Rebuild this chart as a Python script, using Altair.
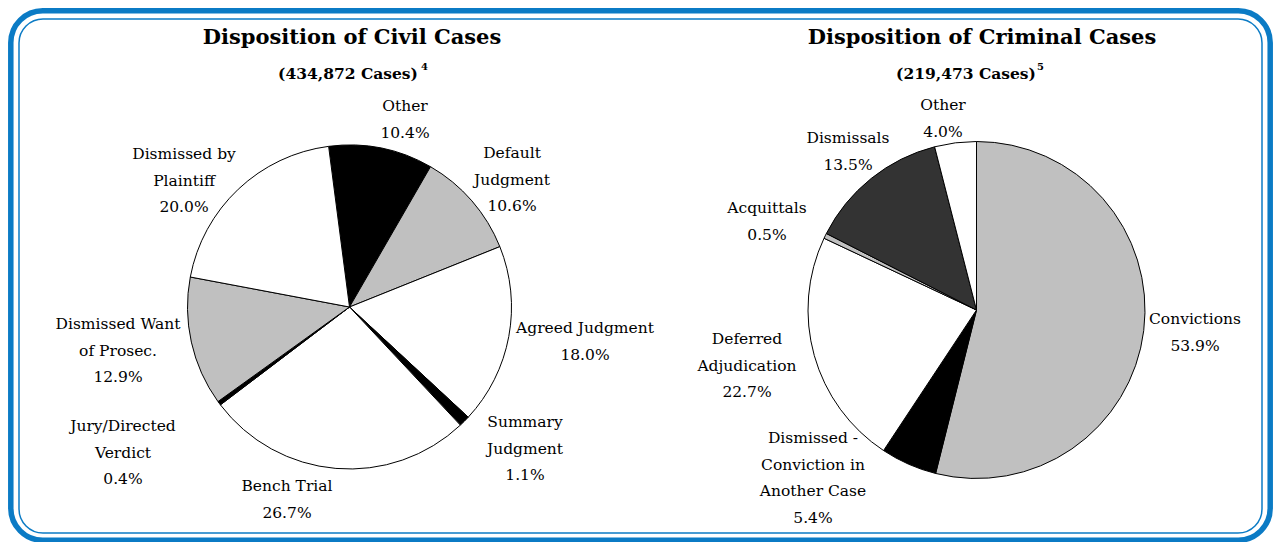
import math
import altair as alt
import pandas as pd

# ---------------- data ----------------
civil_categories = ["Other", "Default\nJudgment", "Agreed Judgment", "Summary\nJudgment",
                    "Bench Trial", "Jury/Directed\nVerdict", "Dismissed Want\nof Prosec.",
                    "Dismissed by\nPlaintiff"]
civil_values = [10.4, 10.6, 18.0, 1.1, 26.7, 0.4, 12.9, 20.0]

criminal_categories = ["Convictions", "Dismissed -\nConviction in\nAnother Case",
                       "Deferred\nAdjudication", "Acquittals", "Dismissals", "Other"]
criminal_values = [53.9, 5.4, 22.7, 0.5, 13.5, 4.0]

civil_title = "Disposition of Civil Cases"
civil_sub = "(434,872 Cases)"
civil_note = "4"
criminal_title = "Disposition of Criminal Cases"
criminal_sub = "(219,473 Cases)"
criminal_note = "5"

# ---------------- styles / positions ----------------
civil_fills = ["#000000", "#c0c0c0", "#ffffff", "#000000", "#ffffff", "#000000", "#c0c0c0", "#ffffff"]
criminal_fills = ["#c0c0c0", "#000000", "#ffffff", "#c0c0c0", "#333333", "#ffffff"]

# label anchors (page pixels): centre x, first-line y
civil_label_x = [405, 512, 585, 525, 287, 123, 118, 184]
civil_label_y = [105, 152, 327, 421, 485, 425, 323, 153]
criminal_label_x = [1195, 813, 747, 767, 848, 943]
criminal_label_y = [318, 437, 338, 207, 137, 104]

M = 8  # page margin
W, H = 1265, 534
FONT = "DejaVu Serif"
BLUE = "#0b7bc5"

civil_center = (349.5 - M, 306 - M)
civil_r = 162
civil_start = math.radians(-7.4) + 2 * math.pi
criminal_center = (976.5 - M, 309 - M)
criminal_r = 168.5
criminal_start = 0.0


def pie_df(cats, vals, fills):
    return pd.DataFrame({"cat": cats, "value": vals, "fill": fills, "idx": list(range(len(cats)))})


def label_df(cats, vals, xs, ys):
    return pd.DataFrame({
        "text": [f"{c}\n{v:.1f}%" for c, v in zip(cats, vals)],
        "x": [x - M for x in xs],
        "y": [y - M for y in ys],
    })


def pie(df, center, r, start):
    total = float(df["value"].sum())
    return alt.Chart(df).mark_arc(radius=r, stroke="black", strokeWidth=1).encode(
        theta=alt.Theta("value:Q", stack=True,
                        scale=alt.Scale(domain=[0, total], range=[start, start + 2 * math.pi],
                                        nice=False, zero=True)),
        order=alt.Order("idx:Q"),
        color=alt.Color("fill:N", scale=None),
        x=alt.value(center[0]),
        y=alt.value(center[1]),
    )


def labels(df):
    return alt.Chart(df).mark_text(font=FONT, fontSize=15.5, lineBreak="\n", lineHeight=26.5,
                                   align="center", baseline="middle", color="black").encode(
        x=alt.X("x:Q", scale=None),
        y=alt.Y("y:Q", scale=None),
        text="text:N",
    )


one = pd.DataFrame({"a": [0]})

frame_outer = alt.Chart(one).mark_rect(filled=False, stroke=BLUE, strokeWidth=5.5, cornerRadius=32).encode(
    x=alt.value(2.8), x2=alt.value(W - 2.8), y=alt.value(1.8), y2=alt.value(H - 2.8))
frame_inner = alt.Chart(one).mark_rect(filled=False, stroke=BLUE, strokeWidth=1.5, cornerRadius=24).encode(
    x=alt.value(11), x2=alt.value(W - 11), y=alt.value(10), y2=alt.value(H - 10))

titles_df = pd.DataFrame({"text": [civil_title, criminal_title], "x": [352 - M, 982 - M], "y": [37 - M, 37 - M]})
subs_df = pd.DataFrame({"text": [civil_sub, criminal_sub], "x": [348 - M, 966 - M], "y": [73 - M, 73 - M]})
notes_df = pd.DataFrame({"text": [civil_note, criminal_note], "x": [421 - M, 1037 - M], "y": [66 - M, 66 - M]})

titles = alt.Chart(titles_df).mark_text(font=FONT, fontSize=21, fontWeight="bold", align="center",
                                        baseline="middle", color="black").encode(
    x=alt.X("x:Q", scale=None), y=alt.Y("y:Q", scale=None), text="text:N")
subs = alt.Chart(subs_df).mark_text(font=FONT, fontSize=15.5, fontWeight="bold", align="center",
                                    baseline="middle", color="black").encode(
    x=alt.X("x:Q", scale=None), y=alt.Y("y:Q", scale=None), text="text:N")
notes = alt.Chart(notes_df).mark_text(font=FONT, fontSize=10, fontWeight="bold", align="left",
                                      baseline="middle", color="black").encode(
    x=alt.X("x:Q", scale=None), y=alt.Y("y:Q", scale=None), text="text:N")

chart = alt.layer(
    frame_outer,
    frame_inner,
    pie(pie_df(civil_categories, civil_values, civil_fills), civil_center, civil_r, civil_start),
    pie(pie_df(criminal_categories, criminal_values, criminal_fills), criminal_center, criminal_r, criminal_start),
    labels(label_df(civil_categories, civil_values, civil_label_x, civil_label_y)),
    labels(label_df(criminal_categories, criminal_values, criminal_label_x, criminal_label_y)),
    titles, subs, notes,
).resolve_scale(theta="independent").properties(
    width=W, height=H, padding=0,
    autosize=alt.AutoSizeParams(type="fit", contains="padding"),
    background="white",
).configure_view(stroke=None)

chart.save("out.html", embed_options={"renderer": "svg", "actions": False})
